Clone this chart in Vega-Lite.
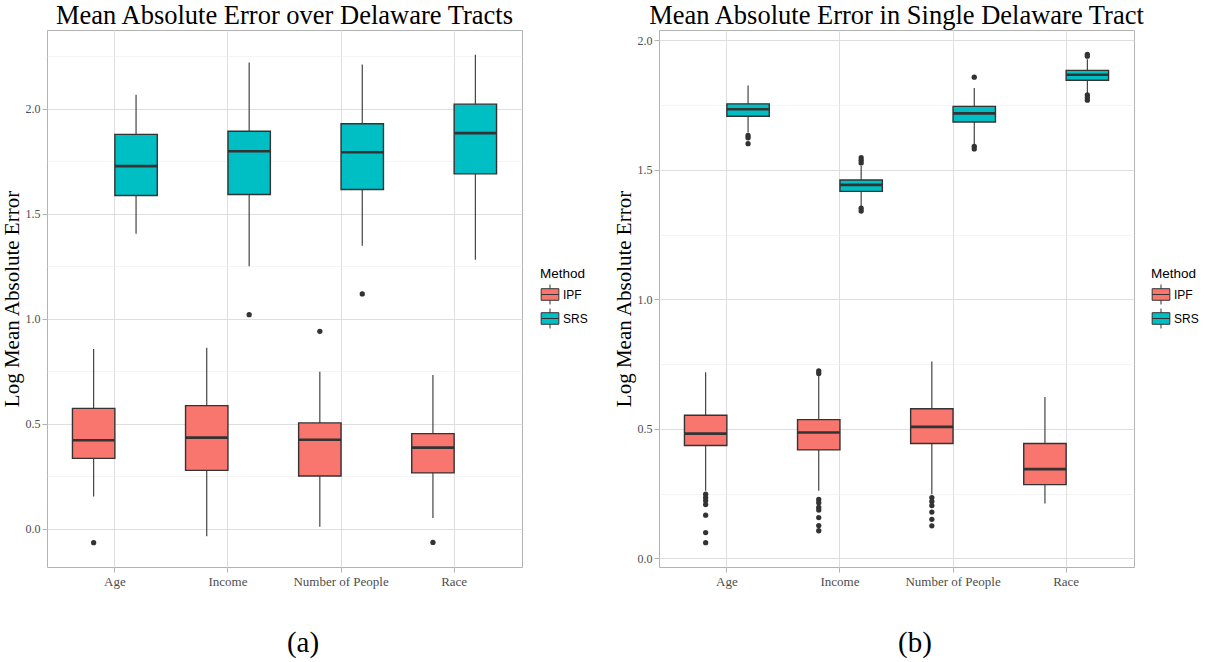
{
  "$schema": "https://vega.github.io/schema/vega-lite/v6.json",
  "padding": {"left": 0, "top": 2, "right": 0, "bottom": 0},
  "background": "white",
  "spacing": 23,
  "config": {
    "view": {"stroke": "#b3b3b3", "strokeWidth": 1},
    "font": "Liberation Serif",
    "axis": {
      "domain": false,
      "labelFont": "Liberation Serif",
      "labelColor": "#4d4d4d",
      "tickColor": "#b3b3b3",
      "tickSize": 5,
      "gridColor": "#dedede",
      "titleFont": "Liberation Serif",
      "titleFontWeight": "normal",
      "titleColor": "#000000"
    },
    "title": {"font": "Liberation Serif", "fontWeight": "normal", "color": "#000000", "fontSize": 26.5, "anchor": "middle", "offset": 1}
  },
  "datasets": {
    "a_box": [
      {"cat": "Age", "method": "IPF", "lo": 0.155, "q1": 0.336, "med": 0.422, "q3": 0.574, "hi": 0.857},
      {"cat": "Income", "method": "IPF", "lo": -0.035, "q1": 0.279, "med": 0.435, "q3": 0.587, "hi": 0.863},
      {"cat": "Number of People", "method": "IPF", "lo": 0.011, "q1": 0.252, "med": 0.425, "q3": 0.505, "hi": 0.748},
      {"cat": "Race", "method": "IPF", "lo": 0.052, "q1": 0.267, "med": 0.387, "q3": 0.454, "hi": 0.733},
      {"cat": "Age", "method": "SRS", "lo": 1.405, "q1": 1.587, "med": 1.727, "q3": 1.878, "hi": 2.067},
      {"cat": "Income", "method": "SRS", "lo": 1.25, "q1": 1.592, "med": 1.798, "q3": 1.893, "hi": 2.22},
      {"cat": "Number of People", "method": "SRS", "lo": 1.348, "q1": 1.616, "med": 1.793, "q3": 1.929, "hi": 2.211},
      {"cat": "Race", "method": "SRS", "lo": 1.281, "q1": 1.69, "med": 1.884, "q3": 2.022, "hi": 2.257}
    ],
    "a_out": [
      {"cat": "Age", "method": "IPF", "v": -0.065},
      {"cat": "Income", "method": "SRS", "v": 1.02},
      {"cat": "Number of People", "method": "IPF", "v": 0.941},
      {"cat": "Number of People", "method": "SRS", "v": 1.119},
      {"cat": "Race", "method": "IPF", "v": -0.064}
    ],
    "b_box": [
      {"cat": "Age", "method": "IPF", "lo": 0.261, "q1": 0.436, "med": 0.482, "q3": 0.553, "hi": 0.719},
      {"cat": "Income", "method": "IPF", "lo": 0.261, "q1": 0.419, "med": 0.486, "q3": 0.536, "hi": 0.705},
      {"cat": "Number of People", "method": "IPF", "lo": 0.248, "q1": 0.444, "med": 0.508, "q3": 0.578, "hi": 0.76},
      {"cat": "Race", "method": "IPF", "lo": 0.212, "q1": 0.285, "med": 0.345, "q3": 0.444, "hi": 0.623},
      {"cat": "Age", "method": "SRS", "lo": 1.644, "q1": 1.707, "med": 1.734, "q3": 1.755, "hi": 1.826},
      {"cat": "Income", "method": "SRS", "lo": 1.361, "q1": 1.417, "med": 1.442, "q3": 1.461, "hi": 1.515},
      {"cat": "Number of People", "method": "SRS", "lo": 1.599, "q1": 1.685, "med": 1.718, "q3": 1.745, "hi": 1.816},
      {"cat": "Race", "method": "SRS", "lo": 1.794, "q1": 1.846, "med": 1.867, "q3": 1.884, "hi": 1.927}
    ],
    "b_out": [
      {"cat": "Age", "method": "SRS", "v": 1.633},
      {"cat": "Age", "method": "SRS", "v": 1.624},
      {"cat": "Age", "method": "SRS", "v": 1.601},
      {"cat": "Income", "method": "SRS", "v": 1.547},
      {"cat": "Income", "method": "SRS", "v": 1.537},
      {"cat": "Income", "method": "SRS", "v": 1.527},
      {"cat": "Income", "method": "SRS", "v": 1.352},
      {"cat": "Income", "method": "SRS", "v": 1.341},
      {"cat": "Number of People", "method": "SRS", "v": 1.858},
      {"cat": "Number of People", "method": "SRS", "v": 1.591},
      {"cat": "Number of People", "method": "SRS", "v": 1.581},
      {"cat": "Race", "method": "SRS", "v": 1.946},
      {"cat": "Race", "method": "SRS", "v": 1.939},
      {"cat": "Race", "method": "SRS", "v": 1.789},
      {"cat": "Race", "method": "SRS", "v": 1.779},
      {"cat": "Race", "method": "SRS", "v": 1.769},
      {"cat": "Age", "method": "IPF", "v": 0.248},
      {"cat": "Age", "method": "IPF", "v": 0.235},
      {"cat": "Age", "method": "IPF", "v": 0.223},
      {"cat": "Age", "method": "IPF", "v": 0.208},
      {"cat": "Age", "method": "IPF", "v": 0.167},
      {"cat": "Age", "method": "IPF", "v": 0.1},
      {"cat": "Age", "method": "IPF", "v": 0.061},
      {"cat": "Income", "method": "IPF", "v": 0.724},
      {"cat": "Income", "method": "IPF", "v": 0.714},
      {"cat": "Income", "method": "IPF", "v": 0.228},
      {"cat": "Income", "method": "IPF", "v": 0.215},
      {"cat": "Income", "method": "IPF", "v": 0.197},
      {"cat": "Income", "method": "IPF", "v": 0.187},
      {"cat": "Income", "method": "IPF", "v": 0.158},
      {"cat": "Income", "method": "IPF", "v": 0.127},
      {"cat": "Income", "method": "IPF", "v": 0.107},
      {"cat": "Number of People", "method": "IPF", "v": 0.235},
      {"cat": "Number of People", "method": "IPF", "v": 0.22},
      {"cat": "Number of People", "method": "IPF", "v": 0.204},
      {"cat": "Number of People", "method": "IPF", "v": 0.179},
      {"cat": "Number of People", "method": "IPF", "v": 0.151},
      {"cat": "Number of People", "method": "IPF", "v": 0.126}
    ]
  },
  "hconcat": [
    {
      "width": 475,
      "height": 537,
      "title": {"text": "Mean Absolute Error over Delaware Tracts"},
      "encoding": {
        "x": {
          "field": "cat", "type": "nominal",
          "sort": ["Age", "Income", "Number of People", "Race"],
          "scale": {"paddingInner": 0.25, "paddingOuter": 0.225},
          "axis": {"grid": true, "bandPosition": 0.5, "labelAngle": 0, "labelPadding": 3, "labelFontSize": 13, "title": "(a)", "titleFontSize": 29, "titlePadding": 40, "titleX": 255.5, "titleAlign": "center"}
        },
        "xOffset": {"field": "method", "type": "nominal", "sort": ["IPF", "SRS"], "scale": {"paddingInner": 0, "paddingOuter": 0}}
      },
      "layer": [
        {
          "data": {"name": "a_box"},
          "mark": {"type": "rule", "color": "#333333", "strokeWidth": 1.1},
          "encoding": {
            "y": {
              "field": "lo", "type": "quantitative", "title": "Log Mean Absolute Error",
              "scale": {"domain": [-0.181, 2.375], "nice": false, "zero": false},
              "axis": {
                "values": [0, 0.25, 0.5, 0.75, 1, 1.25, 1.5, 1.75, 2, 2.25],
                "labelExpr": "datum.value % 0.5 === 0 ? format(datum.value, '.1f') : ''",
                "labelFontSize": 12, "labelPadding": 2, "titleFontSize": 21, "titlePadding": 3,
                "gridWidth": {"condition": {"test": "datum.value % 0.5 !== 0", "value": 0.6}, "value": 1},
                "gridColor": {"condition": {"test": "datum.value % 0.5 !== 0", "value": "#ececec"}, "value": "#dedede"},
                "tickOpacity": {"condition": {"test": "datum.value % 0.5 !== 0", "value": 0}, "value": 1}
              }
            },
            "y2": {"field": "hi"}
          }
        },
        {
          "data": {"name": "a_box"},
          "mark": {"type": "bar", "stroke": "#333333", "strokeWidth": 1.4},
          "encoding": {
            "y": {"field": "q1", "type": "quantitative", "title": "Log Mean Absolute Error"},
            "y2": {"field": "q3"},
            "color": {
              "field": "method", "type": "nominal",
              "scale": {"domain": ["IPF", "SRS"], "range": ["#F8766D", "#00BFC4"]},
              "legend": {
                "orient": "none", "legendX": 493, "legendY": 237, "title": "Method",
                "titleFont": "Liberation Sans", "titleFontSize": 13.5, "titleFontWeight": "normal", "titleColor": "#000000",
                "labelFont": "Liberation Sans", "labelFontSize": 12, "labelColor": "#000000",
                "symbolType": "M-0.93,-0.61H0.93V0.61H-0.93Z M-0.93,0H0.93 M0,-0.61V-1.05 M0,0.61V1.05",
                "symbolSize": 361, "symbolStrokeColor": "#333333", "symbolStrokeWidth": 1,
                "symbolOpacity": 1, "padding": 0, "rowPadding": 0, "titlePadding": 4, "labelOffset": 3
              }
            }
          }
        },
        {
          "data": {"name": "a_box"},
          "mark": {"type": "bar", "stroke": "#333333", "strokeWidth": 2.6, "fillOpacity": 0},
          "encoding": {
            "y": {"field": "med", "type": "quantitative", "title": "Log Mean Absolute Error"},
            "y2": {"field": "med"}
          }
        },
        {
          "data": {"name": "a_out"},
          "mark": {"type": "point", "filled": true, "color": "#333333", "size": 28, "opacity": 1},
          "encoding": {
            "y": {"field": "v", "type": "quantitative", "title": "Log Mean Absolute Error"}
          }
        }
      ]
    },
    {
      "width": 475,
      "height": 537,
      "title": {"text": "Mean Absolute Error in Single Delaware Tract"},
      "encoding": {
        "x": {
          "field": "cat", "type": "nominal",
          "sort": ["Age", "Income", "Number of People", "Race"],
          "scale": {"paddingInner": 0.25, "paddingOuter": 0.225},
          "axis": {"grid": true, "bandPosition": 0.5, "labelAngle": 0, "labelPadding": 3, "labelFontSize": 13, "title": "(b)", "titleFontSize": 29, "titlePadding": 40, "titleX": 255.5, "titleAlign": "center"}
        },
        "xOffset": {"field": "method", "type": "nominal", "sort": ["IPF", "SRS"], "scale": {"paddingInner": 0, "paddingOuter": 0}}
      },
      "layer": [
        {
          "data": {"name": "b_box"},
          "mark": {"type": "rule", "color": "#333333", "strokeWidth": 1.1},
          "encoding": {
            "y": {
              "field": "lo", "type": "quantitative", "title": "Log Mean Absolute Error",
              "scale": {"domain": [-0.033, 2.04], "nice": false, "zero": false},
              "axis": {
                "values": [0, 0.25, 0.5, 0.75, 1, 1.25, 1.5, 1.75, 2],
                "labelExpr": "datum.value % 0.5 === 0 ? format(datum.value, '.1f') : ''",
                "labelFontSize": 12, "labelPadding": 2, "titleFontSize": 21, "titlePadding": 3,
                "gridWidth": {"condition": {"test": "datum.value % 0.5 !== 0", "value": 0.6}, "value": 1},
                "gridColor": {"condition": {"test": "datum.value % 0.5 !== 0", "value": "#ececec"}, "value": "#dedede"},
                "tickOpacity": {"condition": {"test": "datum.value % 0.5 !== 0", "value": 0}, "value": 1}
              }
            },
            "y2": {"field": "hi"}
          }
        },
        {
          "data": {"name": "b_box"},
          "mark": {"type": "bar", "stroke": "#333333", "strokeWidth": 1.4},
          "encoding": {
            "y": {"field": "q1", "type": "quantitative", "title": "Log Mean Absolute Error"},
            "y2": {"field": "q3"},
            "color": {
              "field": "method", "type": "nominal",
              "scale": {"domain": ["IPF", "SRS"], "range": ["#F8766D", "#00BFC4"]},
              "legend": {
                "orient": "none", "legendX": 492, "legendY": 237, "title": "Method",
                "titleFont": "Liberation Sans", "titleFontSize": 13.5, "titleFontWeight": "normal", "titleColor": "#000000",
                "labelFont": "Liberation Sans", "labelFontSize": 12, "labelColor": "#000000",
                "symbolType": "M-0.93,-0.61H0.93V0.61H-0.93Z M-0.93,0H0.93 M0,-0.61V-1.05 M0,0.61V1.05",
                "symbolSize": 361, "symbolStrokeColor": "#333333", "symbolStrokeWidth": 1,
                "symbolOpacity": 1, "padding": 0, "rowPadding": 0, "titlePadding": 4, "labelOffset": 3
              }
            }
          }
        },
        {
          "data": {"name": "b_box"},
          "mark": {"type": "bar", "stroke": "#333333", "strokeWidth": 2.6, "fillOpacity": 0},
          "encoding": {
            "y": {"field": "med", "type": "quantitative", "title": "Log Mean Absolute Error"},
            "y2": {"field": "med"}
          }
        },
        {
          "data": {"name": "b_out"},
          "mark": {"type": "point", "filled": true, "color": "#333333", "size": 28, "opacity": 1},
          "encoding": {
            "y": {"field": "v", "type": "quantitative", "title": "Log Mean Absolute Error"}
          }
        }
      ]
    }
  ],
  "resolve": {
    "scale": {"x": "independent", "y": "independent", "xOffset": "independent", "color": "independent"},
    "axis": {"x": "independent", "y": "independent"},
    "legend": {"color": "independent"}
  }
}
